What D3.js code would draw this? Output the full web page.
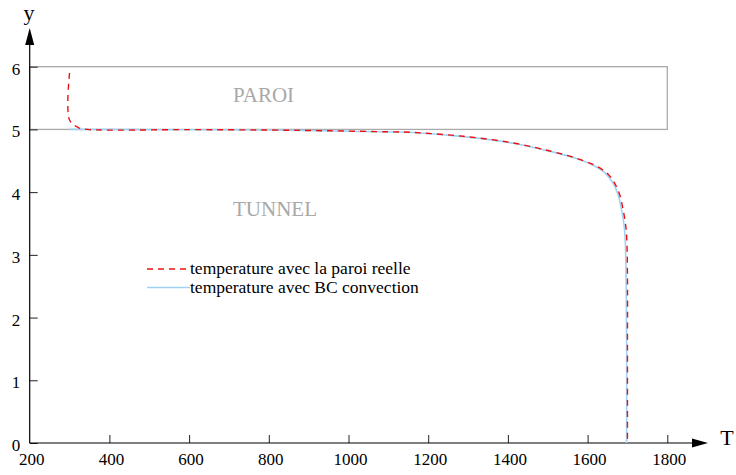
<!DOCTYPE html>
<html>
<head>
<meta charset="utf-8">
<script src="https://cdn.jsdelivr.net/npm/d3@7.9.0/dist/d3.min.js"></script>
<style>
  body { margin: 0; background: #fff; }
  text { font-family: 'Liberation Serif', 'Times New Roman', serif; }
</style>
</head>
<body>
<svg id="chart" width="736" height="475"></svg>
<script>
// tick values
const xTicks = [200, 400, 600, 800, 1000, 1200, 1400, 1600, 1800];
const yTicks = [0, 1, 2, 3, 4, 5, 6];

// temperature avec BC convection (T, y)
const convT = [300, 600, 800, 954, 1100, 1162, 1288, 1413, 1506, 1560, 1614, 1645, 1664, 1677, 1685, 1691, 1694, 1696, 1697, 1698, 1698];
const convY = [5.0, 4.995, 4.99, 4.975, 4.96, 4.95, 4.885, 4.78, 4.65, 4.56, 4.43, 4.3, 4.14, 3.95, 3.72, 3.5, 3.29, 2.9, 2.4, 1.5, 0];

// temperature avec la paroi reelle (T, y)
const paroiT = [300, 300, 322, 345, 600, 800, 954, 1100, 1162, 1288, 1413, 1506, 1562, 1617, 1649, 1668, 1681, 1689, 1695, 1698, 1700, 1700, 1700];
const paroiY = [5.9, 5.15, 5.03, 5.0, 4.997, 4.99, 4.978, 4.962, 4.952, 4.89, 4.785, 4.655, 4.56, 4.43, 4.3, 4.14, 3.95, 3.72, 3.5, 3.29, 2.7, 1.5, 0];

// wall region
const paroiBox = {T0: 200, T1: 1800, y0: 5, y1: 6};

const legendLabels = ['temperature avec la paroi reelle', 'temperature avec BC convection'];

const svg = d3.select('#chart');

const x = d3.scaleLinear().domain([200, 1800]).range([29.7, 667.3]);
const y = d3.scaleLinear().domain([0, 6]).range([443, 66.7]);

/*wall rectangle*/
svg.append('rect')
  .attr('x', x(paroiBox.T0))
  .attr('y', y(paroiBox.y1))
  .attr('width', x(paroiBox.T1) - x(paroiBox.T0))
  .attr('height', y(paroiBox.y0) - y(paroiBox.y1))
  .attr('fill', 'none')
  .attr('stroke', '#aaa')
  .attr('stroke-width', 1.3);

svg.append('text')
  .attr('x', 233).attr('y', 102)
  .attr('font-size', 21).attr('fill', '#a8a8a8')
  .text('PAROI');

svg.append('text')
  .attr('x', 233).attr('y', 216)
  .attr('font-size', 21).attr('fill', '#a8a8a8')
  .text('TUNNEL');

/*axes*/
const xAxis = svg.append('g').attr('transform', `translate(0,${y(0)})`)
  .call(d3.axisTop(x).tickValues(xTicks.slice(1)).tickSize(8).tickFormat(''));
xAxis.select('.domain').remove();
xAxis.selectAll('line').attr('stroke', '#222');

const yAxis = svg.append('g').attr('transform', `translate(${x(200)},0)`)
  .call(d3.axisRight(y).tickValues(yTicks).tickSize(8).tickFormat(''));
yAxis.select('.domain').remove();
yAxis.selectAll('line').attr('stroke', '#222');

svg.append('line')
  .attr('x1', x(200)).attr('x2', 694).attr('y1', y(0)).attr('y2', y(0))
  .attr('stroke', '#000').attr('stroke-width', 1.2);
svg.append('path')
  .attr('d', `M708,${y(0)} L692,${y(0) - 4.5} L692,${y(0) + 4.5} Z`)
  .attr('fill', '#000');

svg.append('line')
  .attr('x1', x(200)).attr('x2', x(200)).attr('y1', y(0)).attr('y2', 44)
  .attr('stroke', '#000').attr('stroke-width', 1.2);
svg.append('path')
  .attr('d', `M${x(200)},28 L${x(200) - 4.5},45 L${x(200) + 4.5},45 Z`)
  .attr('fill', '#000');

svg.selectAll('.xlab')
  .data(xTicks)
  .join('text')
  .attr('class', 'xlab')
  .attr('x', d => x(d) + 2)
  .attr('y', 465)
  .attr('text-anchor', 'middle')
  .attr('font-size', 17)
  .text(d => d);

svg.selectAll('.ylab')
  .data(yTicks)
  .join('text')
  .attr('class', 'ylab')
  .attr('x', 16)
  .attr('y', d => y(d) + 8)
  .attr('text-anchor', 'middle')
  .attr('font-size', 17)
  .text(d => d);

svg.append('text').attr('x', 29).attr('y', 20)
  .attr('text-anchor', 'middle').attr('font-size', 22).text('y');
svg.append('text').attr('x', 727).attr('y', 445)
  .attr('text-anchor', 'middle').attr('font-size', 22).text('T');

/*curves*/
const line = d3.line()
  .x(d => x(d[0]))
  .y(d => y(d[1]))
  .curve(d3.curveCatmullRom.alpha(0.5));

const convData = d3.zip(convT, convY);
const paroiData = d3.zip(paroiT, paroiY);

svg.append('path')
  .attr('d', line(convData))
  .attr('fill', 'none')
  .attr('stroke', '#9fd3f5')
  .attr('stroke-width', 1.6);

svg.append('path')
  .attr('d', line(paroiData))
  .attr('fill', 'none')
  .attr('stroke', '#ee1111')
  .attr('stroke-width', 1.4)
  .attr('stroke-dasharray', '6,5');

/*legend*/
const legendStyles = [
  {stroke: '#ee1111', dash: '6,5', width: 1.3},
  {stroke: '#9fd3f5', dash: null, width: 1.6}
];
const lg = svg.selectAll('.lg')
  .data(legendLabels)
  .join('g')
  .attr('class', 'lg')
  .attr('transform', (d, i) => `translate(147,${269 + i * 18.5})`);
lg.append('line')
  .attr('x1', 0).attr('x2', 43)
  .attr('stroke', (d, i) => legendStyles[i].stroke)
  .attr('stroke-width', (d, i) => legendStyles[i].width)
  .attr('stroke-dasharray', (d, i) => legendStyles[i].dash);
lg.append('text')
  .attr('x', 43).attr('y', 5)
  .attr('font-size', 17.5)
  .text(d => d);
</script>
</body>
</html>
